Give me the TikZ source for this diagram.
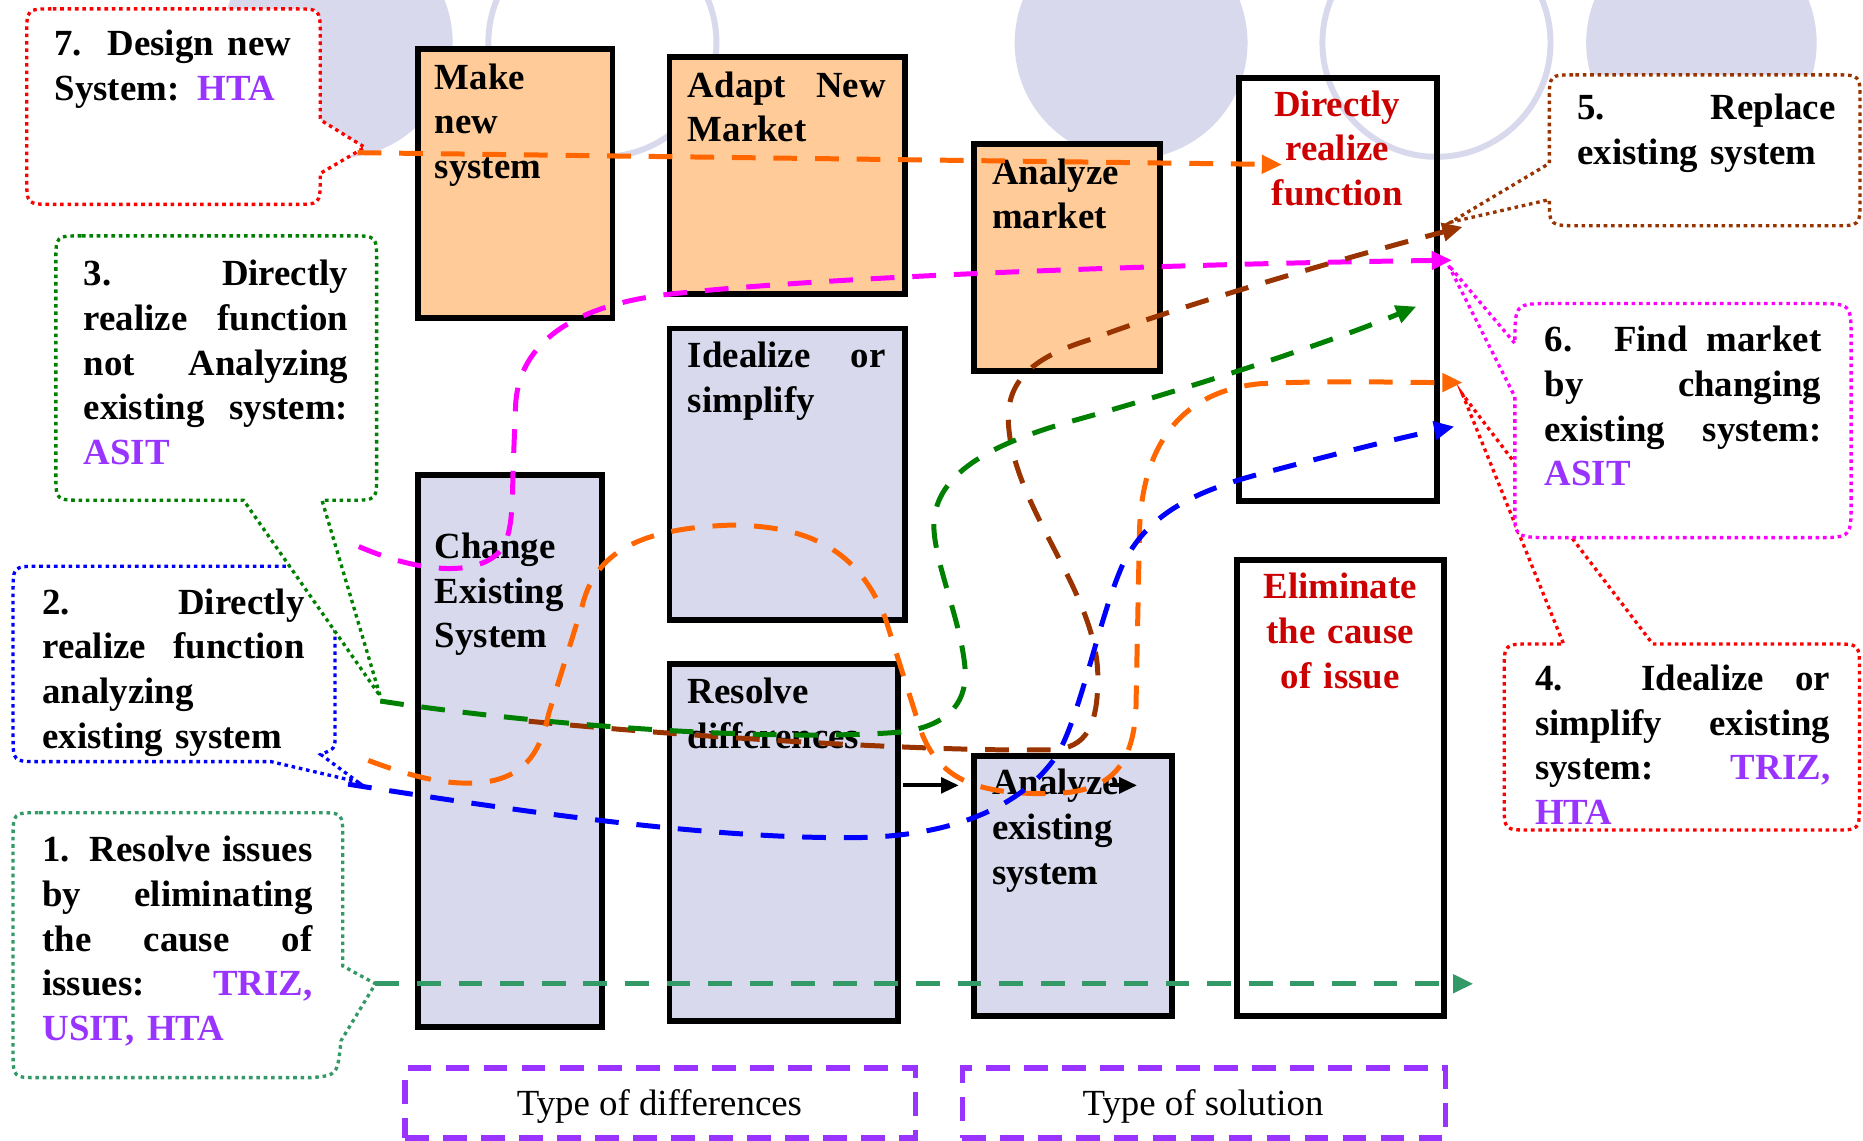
\documentclass[tikz,border=0pt]{standalone}
\usepackage{fontspec}
\setmainfont{Liberation Serif}
\usetikzlibrary{arrows.meta}

\definecolor{lav}{RGB}{217,217,237}
\definecolor{peach}{RGB}{255,204,153}
\definecolor{darkred}{RGB}{204,0,0}
\definecolor{violet2}{RGB}{153,51,255}
\definecolor{orng}{RGB}{255,102,0}
\definecolor{brwn}{RGB}{153,51,0}
\definecolor{grn}{RGB}{0,128,0}
\definecolor{sgreen}{RGB}{51,153,102}
\definecolor{mgnt}{RGB}{255,0,255}
\definecolor{blu}{RGB}{0,0,255}
\definecolor{rd}{RGB}{255,0,0}

\newcommand\tfont{\fontsize{31}{37.6}\selectfont\bfseries}
\newcommand\lfont{\fontsize{31}{37.6}\selectfont}
% justified line of a given width (stretchable word spaces), and a plain line
\newcommand\jst[2]{\strut{\spaceskip=0pt\xspaceskip=0pt\makebox[#1pt][s]{#2}}}
\newcommand\lst[1]{\strut #1}
\newcommand\hl[1]{\textcolor{violet2}{#1}}

\begin{document}
\begin{tikzpicture}[x=1pt,y=-1pt,
  panel/.style={draw=black, line width=5pt, inner sep=0pt, outer sep=0pt, anchor=north west},
  txt/.style={inner sep=0pt, outer sep=0pt, anchor=north west, align=left, font=\tfont},
  ctxt/.style={inner sep=0pt, outer sep=0pt, anchor=north, align=center, font=\tfont, text=darkred, text width=200pt},
  bubble/.style={draw=#1, fill=white, line width=2.8pt, dash pattern=on 3pt off 3.2pt},
  flow/.style={draw=#1, line width=4.2pt, dash pattern=on 20pt off 15pt, -{Triangle[length=17pt,width=15pt]}},
  solidarrow/.style={draw=black, line width=3.5pt, -{Triangle[length=15pt,width=13pt]}},
  tagbox/.style={draw=violet2, line width=4.5pt, dash pattern=on 20pt off 12pt, inner sep=0pt, outer sep=0pt, anchor=north west},
  tagtext/.style={font=\lfont, inner sep=0pt, anchor=base}
]
\useasboundingbox (0,0) rectangle (1568,960);
\fill[white] (0,0) rectangle (1568,960);

% background discs and rings
\begin{scope}
  \clip (0,0) rectangle (1568,960);
  \fill[lav] (284,36) circle[radius=97pt];
  \draw[lav, line width=5pt] (507,36) circle[radius=96pt];
  \fill[lav] (952,36) circle[radius=98pt];
  \draw[lav, line width=5pt] (1209,36) circle[radius=96pt];
  \fill[lav] (1432,36) circle[radius=97pt];
\end{scope}

% panels
\node[panel, fill=peach, minimum width=164pt, minimum height=226pt] (make) at (351.5,41.5) {};
\node[panel, fill=peach, minimum width=198pt, minimum height=199.5pt] (adapt) at (563.5,48) {};
\node[panel, fill=peach, minimum width=157pt, minimum height=191pt] (amarket) at (819.5,121.5) {};
\node[panel, minimum width=167pt, minimum height=356pt] (direct) at (1042.5,65.5) {};
\node[panel, fill=lav, minimum width=198pt, minimum height=245pt] (ideal) at (563.5,276.5) {};
\node[panel, fill=lav, minimum width=155pt, minimum height=465pt] (change) at (351.5,399.5) {};
\node[panel, fill=lav, minimum width=192pt, minimum height=301pt] (resolve) at (563.5,558.5) {};
\node[panel, fill=lav, minimum width=167pt, minimum height=219pt] (aexist) at (819.5,636.5) {};
\node[panel, minimum width=174pt, minimum height=384pt] (elim) at (1041.5,471.5) {};

% panel texts
\node[txt, text width=150pt] (tMake) at (366,48.7) {\lst{Make}\\\lst{new}\\\lst{system}};
\node[txt, text width=166.5pt] (tAdapt) at (579,55.5) {\jst{166.5}{Adapt New}\\\lst{Market}};
\node[txt, text width=140pt] (tAMarket) at (835,128.7) {\lst{Analyze}\\\lst{market}};
\node[txt, text width=166.5pt] (tIdeal) at (579,283.3) {\jst{166.5}{Idealize or}\\\lst{simplify}};
\node[txt, text width=140pt] (tChange) at (366,443.7) {\lst{Change}\\\lst{Existing}\\\lst{System}};
\node[txt, text width=180pt] (tResolve) at (579,565.7) {\lst{Resolve}\\\lst{differences}};
\node[txt, text width=150pt] (tAExist) at (835,642.7) {\lst{Analyze}\\\lst{existing}\\\lst{system}};
\node[ctxt] (tDirect) at (1125.5,71.4) {\lst{Directly}\\\lst{realize}\\\lst{function}};
\node[ctxt] (tElim) at (1128,477.7) {\lst{Eliminate}\\\lst{the cause}\\\lst{of issue}};

% category tags
\node[tagbox, minimum width=429.7pt, minimum height=58.7pt] (diffTag) at (341,899) {};
\node[tagbox, minimum width=406.6pt, minimum height=58.7pt] (solTag) at (810,899) {};
\node[tagtext] (tDiff) at (555,938.6) {Type of differences};
\node[tagtext] (tSol) at (1012.5,938.6) {Type of solution};

% callout tips
\coordinate (tip7) at (307,124);
\coordinate (tip3) at (320,586);
\coordinate (tip2) at (301,658);
\coordinate (tip1) at (316,828);
\coordinate (tip5) at (1221,187);
\coordinate (tip6) at (1219,223);
\coordinate (tip4) at (1231,332);

% callout 7
\draw[bubble=rd] (44.5,7.5) -- (247.5,7.5) .. controls (269.5,7.5) .. (269.5,29.5) -- (269.5,97)
  .. controls (269.5,101) .. (273,103) -- (tip7) -- (269.5,146) -- (269.5,150)
  .. controls (269.5,172) .. (247.5,172) -- (44.5,172) .. controls (22.5,172) .. (22.5,150)
  -- (22.5,29.5) .. controls (22.5,7.5) .. (44.5,7.5) -- cycle;
% callout 2
\draw[bubble=blu] (33,476.6) -- (260,476.6) .. controls (282,476.6) .. (282,498.6) -- (282,619)
  .. controls (282,630) .. (270,635) -- (tip2) -- (228,641) -- (33,641)
  .. controls (11,641) .. (11,619) -- (11,498.6) .. controls (11,476.6) .. (33,476.6) -- cycle;
% callout 3
\draw[bubble=grn] (69,198.5) -- (295,198.5) .. controls (317,198.5) .. (317,220.5) -- (317,399)
  .. controls (317,421) .. (295,421) -- (271,421) -- (tip3) -- (205,421) -- (69,421)
  .. controls (47,421) .. (47,399) -- (47,220.5) .. controls (47,198.5) .. (69,198.5) -- cycle;
% callout 1
\draw[bubble=sgreen] (33,684) -- (266.5,684) .. controls (288.5,684) .. (288.5,706) -- (288.5,813)
  -- (tip1) -- (287,876) .. controls (284,905) .. (262,907) -- (33,907)
  .. controls (11,907) .. (11,885) -- (11,706) .. controls (11,684) .. (33,684) -- cycle;
% callout 4
\draw[bubble=rd] (1266,564) .. controls (1266,542) .. (1290,542) -- (1316,542) -- (tip4) -- (1391,542)
  -- (1543,542) .. controls (1565,542) .. (1565,564) -- (1565,676.6)
  .. controls (1565,698.6) .. (1543,698.6) -- (1288,698.6) .. controls (1266,698.6) .. (1266,676.6) -- cycle;
% callout 6
\draw[bubble=mgnt] (1305,255.5) -- (1528,255.5) .. controls (1558,255.5) .. (1558,285.5) -- (1558,422.5)
  .. controls (1558,452.5) .. (1528,452.5) -- (1310,452.5) .. controls (1275,452.5) .. (1275,430)
  -- (1275,334) -- (tip6) -- (1275,289) .. controls (1275,255.5) .. (1305,255.5) -- cycle;
% callout 5
\draw[bubble=brwn] (1326,63) -- (1543.5,63) .. controls (1565.5,63) .. (1565.5,85) -- (1565.5,168)
  .. controls (1565.5,190) .. (1543.5,190) -- (1330,190) .. controls (1304,190) .. (1304,168)
  -- (tip5) -- (1304,137.5) -- (1304,85) .. controls (1304,63) .. (1326,63) -- cycle;

% callout texts
\node[txt, text width=199pt] (c7) at (45.9,20.3)
  {\jst{199}{7. Design new}\\\lst{System: \hl{HTA}}};
\node[txt, text width=222.5pt] (c3) at (70.6,214.2)
  {\jst{222.5}{3. Directly}\\\jst{222.5}{realize function}\\\jst{222.5}{not Analyzing}\\\jst{222.5}{existing system:}\\\lst{\hl{ASIT}}};
\node[txt, text width=220.6pt] (c2) at (35.7,490.7)
  {\jst{220.6}{2. Directly}\\\jst{220.6}{realize function}\\\lst{analyzing}\\\lst{existing system}};
\node[txt, text width=227.3pt] (c1) at (35.7,699.1)
  {\jst{227.3}{1. Resolve issues}\\\jst{227.3}{by eliminating}\\\jst{227.3}{the cause of}\\\jst{227.3}{issues: \hl{TRIZ,}}\\\lst{\hl{USIT, HTA}}};
\node[txt, text width=217.5pt] (c5) at (1327.5,74.4)
  {\jst{217.5}{5. Replace}\\\lst{existing system}};
\node[txt, text width=233pt] (c6) at (1300,269.7)
  {\jst{233}{6. Find market}\\\jst{233}{by changing}\\\jst{233}{existing system:}\\\lst{\hl{ASIT}}};
\node[txt, text width=248.4pt] (c4) at (1292,554.7)
  {\jst{248.4}{4. Idealize or}\\\jst{248.4}{simplify existing}\\\jst{248.4}{system: \hl{TRIZ,}}\\\lst{\hl{HTA}}};

% connector ends
\coordinate (s7) at (301,128.5);  \coordinate (e7) at (1079,138.5);
\coordinate (s6) at (302,460);    \coordinate (e6) at (1222,219);
\coordinate (s5) at (445,607);    \coordinate (e5) at (1231,191);
\coordinate (s3) at (320,590);    \coordinate (e3) at (1192,258);
\coordinate (s4) at (310,640);    \coordinate (e4) at (1231,322);
\coordinate (s2) at (293,660);    \coordinate (e2) at (1224,359);
\coordinate (s1) at (316,828);    \coordinate (e1) at (1240,828);
\coordinate (ra) at (760,661);    \coordinate (rb) at (807,661);
\coordinate (aa) at (934,661);    \coordinate (ab) at (957,661);

% dashed routes
\draw[flow=orng] (s7) -- (e7);
\draw[flow=mgnt] (s6) .. controls (360,485) and (410,485) .. (425,458)
  .. controls (432,440) and (431,420) .. (432,390) -- (434,340)
  .. controls (437,290) and (480,258) .. (560,248)
  .. controls (700,232) and (1000,222) .. (e6);
\draw[flow=brwn] (s5) .. controls (600,622) and (800,633) .. (885,631)
  .. controls (915,630) and (924,610) .. (924,570)
  .. controls (924,500) and (855,430) .. (849,360)
  .. controls (845,320) and (870,300) .. (920,285)
  .. controls (1000,255) and (1150,212) .. (e5);
\draw[flow=grn] (s3) .. controls (450,610) and (650,625) .. (760,616)
  .. controls (800,610) and (815,590) .. (812,560)
  .. controls (808,520) and (785,470) .. (786,440)
  .. controls (788,400) and (830,375) .. (900,355)
  .. controls (980,333) and (1110,292) .. (e3);
\draw[flow=orng] (s4) .. controls (350,655) and (380,662) .. (410,658)
  .. controls (445,652) and (455,630) .. (462,600) -- (490,510)
  .. controls (500,470) and (530,445) .. (614,442)
  .. controls (690,442) and (725,470) .. (745,520) -- (775,615)
  .. controls (790,655) and (820,668) .. (880,668)
  .. controls (930,668) and (952,650) .. (956,600) -- (959,450)
  .. controls (960,380) and (990,330) .. (1060,323)
  .. controls (1120,320) and (1180,322) .. (e4);
\draw[flow=blu] (s2) .. controls (450,685) and (600,706) .. (720,705)
  .. controls (800,704) and (860,680) .. (890,635)
  .. controls (910,600) and (925,520) .. (945,475)
  .. controls (965,435) and (1000,415) .. (1060,399)
  .. controls (1120,383) and (1180,368) .. (e2);
\draw[flow=sgreen] (s1) -- (e1);

% solid arrows
\draw[solidarrow] (ra) -- (rb);
\draw[solidarrow] (aa) -- (ab);
\end{tikzpicture}
\end{document}
